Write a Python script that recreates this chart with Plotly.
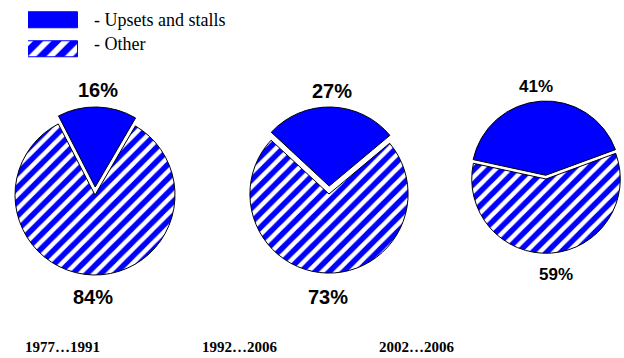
import plotly.graph_objects as go

# Share of outage causes per period
periods = ["1977…1991", "1992…2006", "2002…2006"]
upsets_pct = [16, 27, 41]
other_pct = [84, 73, 59]
cause_labels = ["- Upsets and stalls", "- Other"]

W, H = 624, 358
BLUE = "#0000FF"


def px(x):
    return x / W


def py(y):
    return 1 - y / H


# pie boxes in pixels: (left, right), (top, bottom), pull of the upsets slice
pie_boxes = [
    ((7, 183), (107, 283), 0.10),
    ((242, 416), (107, 281), 0.10),
    ((468, 624), (101, 257), 0.05),
]
rotation_offset = [1.5, 1.5, -4.0]

fig = go.Figure()

for i, (period, u, o) in enumerate(zip(periods, upsets_pct, other_pct)):
    (x0, x1), (y0, y1), pull = pie_boxes[i]
    fig.add_trace(go.Pie(
        labels=cause_labels,
        values=[u, o],
        sort=False,
        direction="clockwise",
        rotation=-u * 3.6 / 2 + rotation_offset[i],
        pull=[pull, 0],
        textinfo="none",
        hoverinfo="label+percent",
        showlegend=False,
        marker=dict(
            colors=[BLUE, BLUE],
            line=dict(color="black", width=1),
            pattern=dict(shape=["", "/"], fgcolor="white", bgcolor=BLUE,
                         fillmode="replace", size=10, solidity=0.45),
        ),
        domain=dict(x=[px(x0), px(x1)], y=[py(y1), py(y0)]),
    ))

# legend swatches drawn as bars on their own small axes
fig.add_trace(go.Bar(
    x=[1, 1],
    y=[1, 0],
    orientation="h",
    width=0.54,
    showlegend=False,
    hoverinfo="skip",
    marker=dict(
        color=BLUE,
        opacity=1,
        line=dict(color=BLUE, width=1),
        pattern=dict(shape=["", "/"], fgcolor="white", bgcolor=BLUE,
                     fillmode="replace", size=13, solidity=0.45),
    ),
    xaxis="x3",
    yaxis="y3",
))

annotations = []

# percentage labels
upper_pos = [(98, 90), (332, 91), (536, 86)]
lower_pos = [(93, 297), (328, 297), (556, 274)]
label_size = [20, 20, 17]
for i in range(3):
    annotations.append(dict(
        x=px(upper_pos[i][0]), y=py(upper_pos[i][1]), xref="paper", yref="paper",
        text=f"<b>{upsets_pct[i]}%</b>", showarrow=False,
        xanchor="center", yanchor="middle",
        font=dict(family="Liberation Sans, Arial", size=label_size[i], color="black"),
    ))
    annotations.append(dict(
        x=px(lower_pos[i][0]), y=py(lower_pos[i][1]), xref="paper", yref="paper",
        text=f"<b>{other_pct[i]}%</b>", showarrow=False,
        xanchor="center", yanchor="middle",
        font=dict(family="Liberation Sans, Arial", size=label_size[i], color="black"),
    ))

# period captions
caption_x = [23, 200, 377]
for i, period in enumerate(periods):
    annotations.append(dict(
        x=px(caption_x[i]), y=py(347), xref="paper", yref="paper",
        text=f"<b>{period}</b>", showarrow=False,
        xanchor="left", yanchor="middle",
        font=dict(family="Liberation Serif, Times New Roman", size=15, color="black"),
    ))

# legend texts
for label, ly in zip(cause_labels, [20, 44]):
    annotations.append(dict(
        x=px(92), y=py(ly), xref="paper", yref="paper",
        text=label, showarrow=False,
        xanchor="left", yanchor="middle",
        font=dict(family="Liberation Serif, Times New Roman", size=18, color="black"),
    ))

fig.update_layout(
    width=W,
    height=H,
    margin=dict(l=0, r=0, t=0, b=0),
    paper_bgcolor="white",
    plot_bgcolor="white",
    annotations=annotations,
    xaxis=dict(visible=False),
    yaxis=dict(visible=False),
    xaxis3=dict(domain=[px(28), px(78)], range=[0, 1], visible=False,
                fixedrange=True, anchor="y3"),
    yaxis3=dict(domain=[py(64.25), py(5.25)], range=[-0.5, 1.5], visible=False,
                fixedrange=True, anchor="x3"),
    bargap=0,
)

fig.write_html("out.html")
